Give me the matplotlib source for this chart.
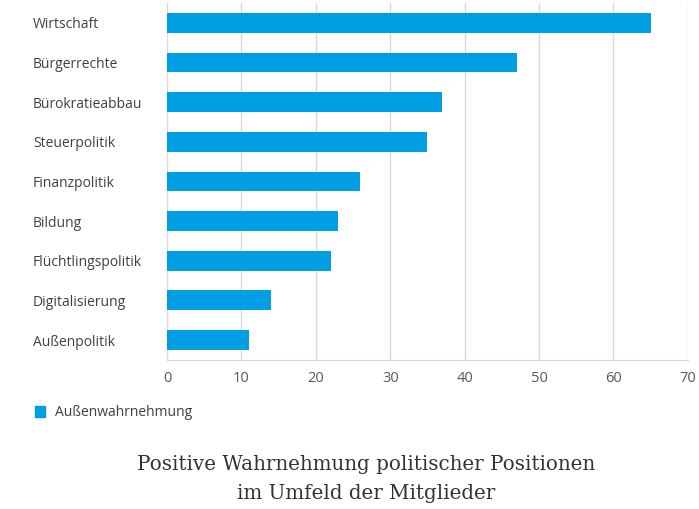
import matplotlib.pyplot as plt
from matplotlib.patches import Patch

categories = ["Wirtschaft", "Bürgerrechte", "Bürokratieabbau", "Steuerpolitik",
              "Finanzpolitik", "Bildung", "Flüchtlingspolitik", "Digitalisierung",
              "Außenpolitik"]
values = [65, 47, 37, 35, 26, 23, 22, 14, 11]
xticks = [0, 10, 20, 30, 40, 50, 60, 70]
series_name = "Außenwahrnehmung"
caption_lines = ["Positive Wahrnehmung politischer Positionen", "im Umfeld der Mitglieder"]

blue = "#009fe3"
grid = "#d9d9d9"
text_col = "#404040"

fig = plt.figure(figsize=(6.99, 5.09), dpi=100)
ax = fig.add_axes([0.239, 0.293, 0.745, 0.701])

pos = list(range(len(categories)))
ax.barh(pos, values, height=0.5, color=blue, zorder=3)
ax.set_ylim(len(categories) - 0.5, -0.5)
ax.set_xlim(0, 70)
ax.set_xticks(xticks)
ax.set_yticks(pos)
ax.set_yticklabels(categories, fontfamily="Open Sans", fontsize=10, color=text_col, ha="left")
ax.tick_params(axis="y", length=0, pad=96.5)
ax.tick_params(axis="x", length=0, pad=8, labelsize=10.5, labelcolor="#595959")
for lab in ax.get_xticklabels():
    lab.set_fontfamily("Open Sans")
ax.grid(axis="x", color=grid, linewidth=1, zorder=0)
for s in ["top", "right"]:
    ax.spines[s].set_visible(False)
ax.spines["left"].set_color(grid)
ax.spines["bottom"].set_color(grid)

fig.legend(handles=[Patch(color=blue, label=series_name)], loc="center left",
           bbox_to_anchor=(0.032, 0.189), frameon=False, handlelength=0.75,
           handleheight=0.75, handletextpad=0.7,
           prop={"family": "Open Sans", "size": 10}, labelcolor=text_col)

for line, y in zip(caption_lines, [0.0884, 0.0295]):
    fig.text(0.524, y, line, ha="center", va="center", fontfamily="DejaVu Serif",
             fontsize=14.3, color="#333333")

fig.savefig("out.png", dpi=100, facecolor="white")
